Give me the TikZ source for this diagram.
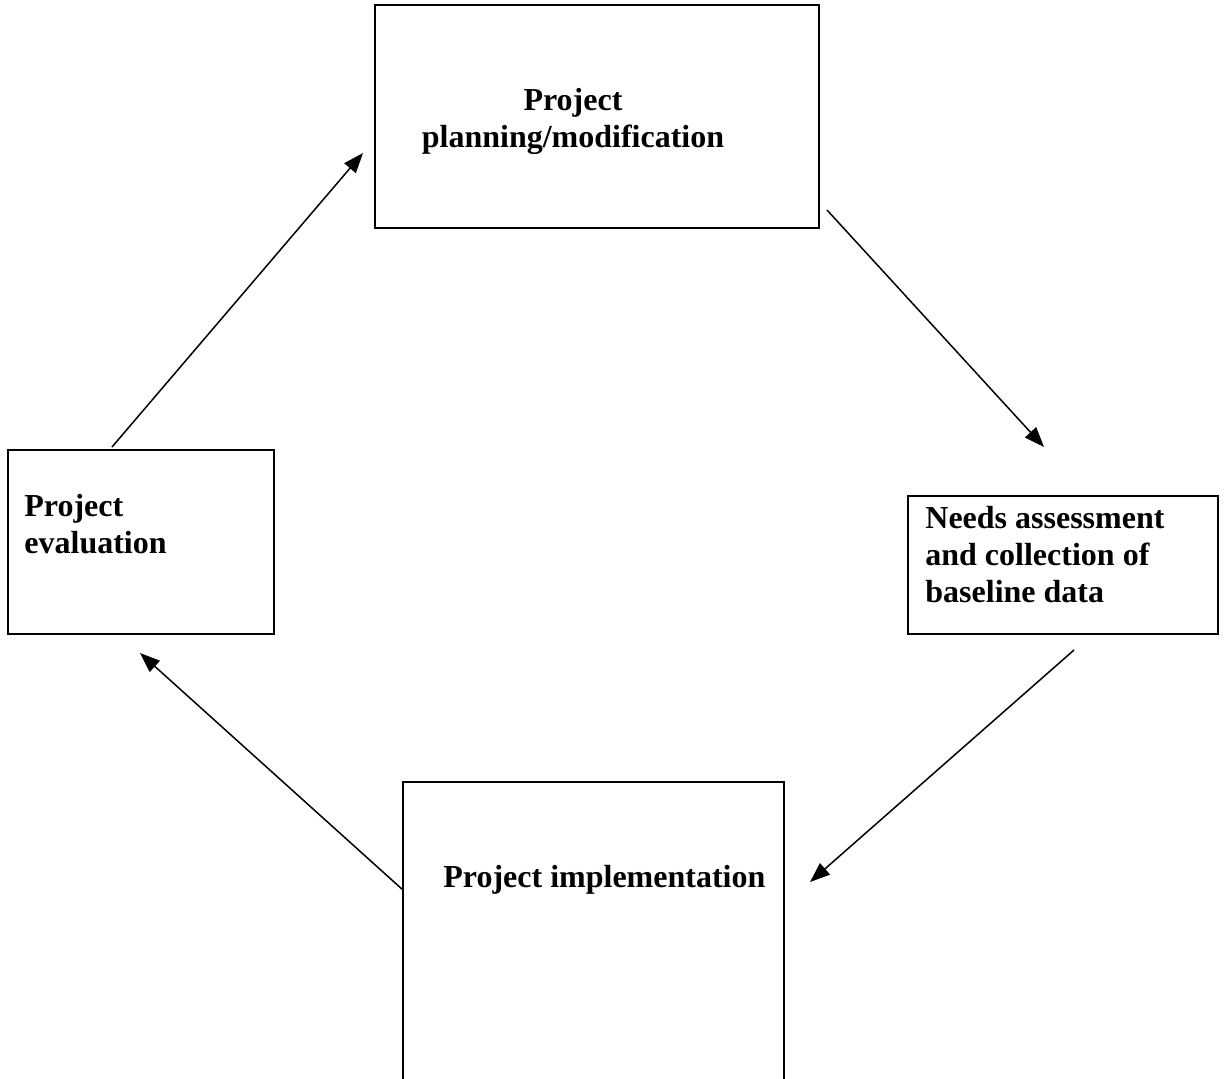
\documentclass[tikz,border=0pt]{standalone}
\usepackage{fontspec}
\setmainfont{Liberation Serif}
\usetikzlibrary{fit,arrows.meta}
\tikzset{
  box/.style={draw,line width=1pt,inner sep=0pt},
  txt/.style={font=\fontsize{16}{18.5}\selectfont\bfseries,inner sep=0pt},
  flow/.style={line width=0.75pt,-{Triangle[length=10pt,width=7.5pt]}}
}
\begin{document}
\begin{tikzpicture}[x=0.5pt,y=-0.5pt]
\useasboundingbox (0,0) rectangle (1225,1078);
\clip (0,0) rectangle (1225,1078);
% boxes
\node [box,fit={(375,5) (819,228)}] (plan) {};
\node [box,fit={(908,496) (1218,634)}] (needs) {};
\node [box,fit={(403,782) (784,1110)}] (impl) {};
\node [box,fit={(8,450) (274,634)}] (eval) {};
% texts
\node [txt,align=center,anchor=north] (plantxt) at (573,88) {Project\\planning/modification};
\node [txt,align=left,anchor=north west] (needstxt) at (925,506) {Needs assessment\\and collection of\\baseline data};
\node [txt,anchor=base west] (impltxt) at (443,887) {Project implementation};
\node [txt,align=left,anchor=north west] (evaltxt) at (24,494) {Project\\evaluation};
% arrow ends
\coordinate (a1) at (827,210);
\coordinate (a2) at (1044,447);
\coordinate (b1) at (1074,650);
\coordinate (b2) at (810,882);
\coordinate (c1) at (403,890);
\coordinate (c2) at (140,653);
\coordinate (d1) at (112,447);
\coordinate (d2) at (363,153);
\draw [flow] (a1) -- (a2);
\draw [flow] (b1) -- (b2);
\draw [flow] (c1) -- (c2);
\draw [flow] (d1) -- (d2);
\end{tikzpicture}
\end{document}
